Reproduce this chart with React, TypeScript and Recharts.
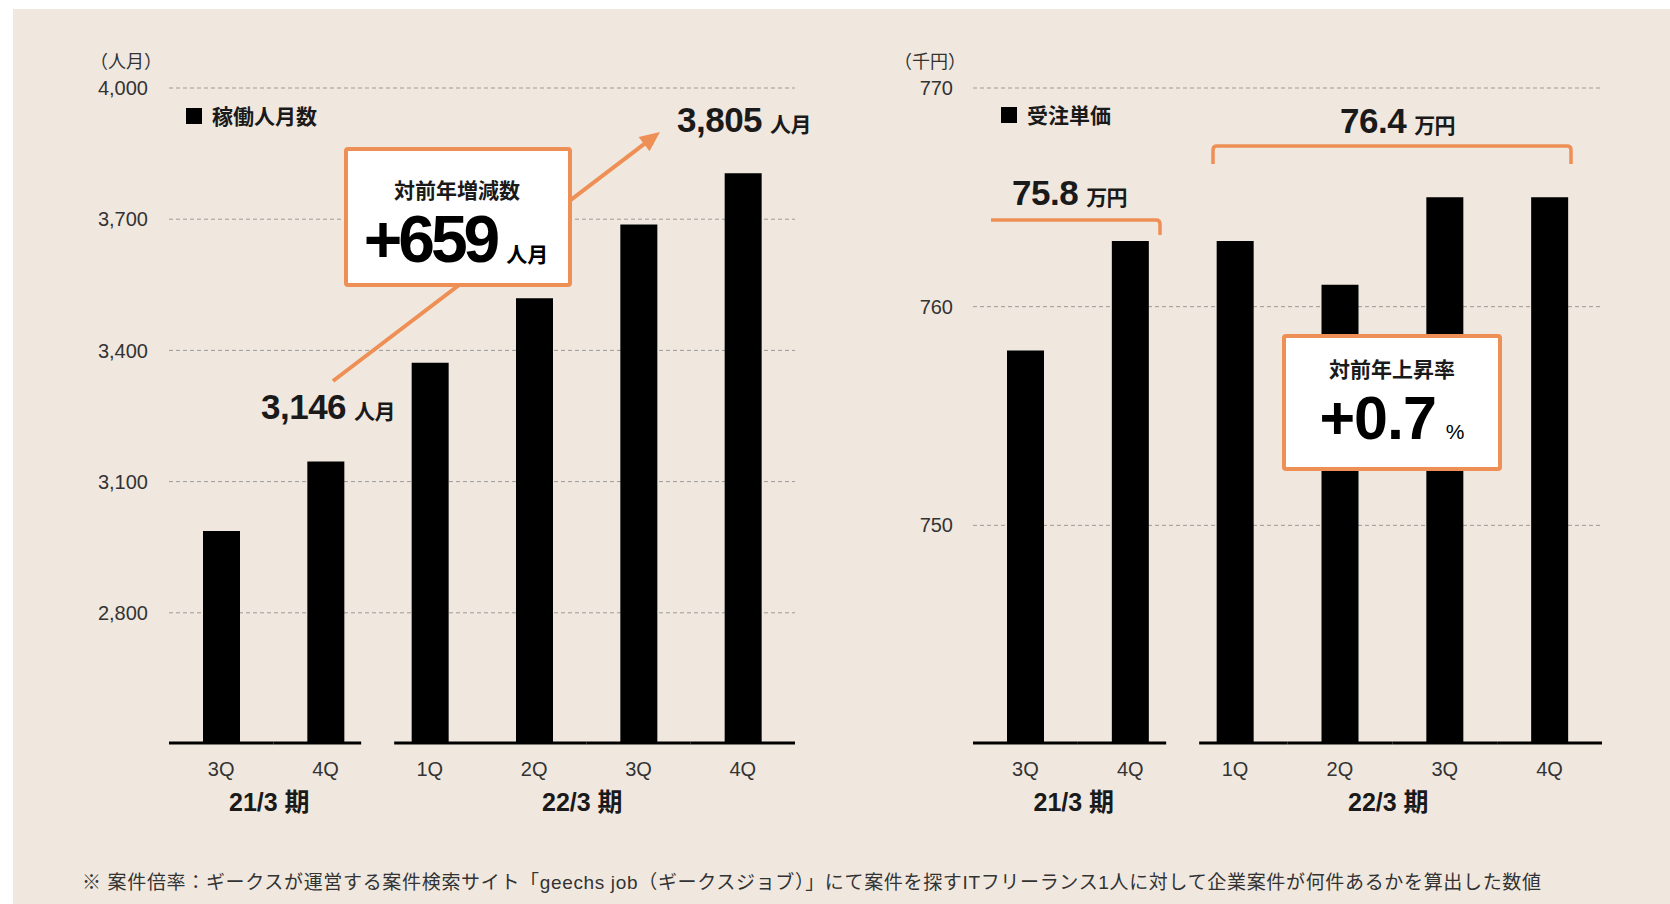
import React from 'react';
import { BarChart, Bar, XAxis, YAxis, CartesianGrid } from 'recharts';

// ---------- data ----------
const quarters = ['3Q', '4Q', '1Q', '2Q', '3Q', '4Q'];
const periodGroups = ['21/3 期', '21/3 期', '22/3 期', '22/3 期', '22/3 期', '22/3 期'];
const manMonths = [2987, 3146, 3372, 3519, 3688, 3805];
const unitPrice = [758, 763, 763, 761, 765, 765];
const manMonthTicks = [2800, 3100, 3400, 3700, 4000];
const unitPriceTicks = [750, 760, 770];
const manMonthDomain: [number, number] = [2500, 4000];
const unitPriceDomain: [number, number] = [740, 770];

const manMonthData = quarters.map((q, i) => ({ key: `${periodGroups[i]}-${q}`, q, g: periodGroups[i], v: manMonths[i] }));
const unitPriceData = quarters.map((q, i) => ({ key: `${periodGroups[i]}-${q}`, q, g: periodGroups[i], v: unitPrice[i] }));

// ---------- style ----------
const BEIGE = '#F0E8DF';
const ORANGE = '#EE8F56';
const FONT = "'Liberation Sans', 'Noto Sans CJK JP', sans-serif";
const TEXT = '#1a1a1a';
const TICK = '#333333';

const PLOT_TOP = 88;
const PLOT_BOTTOM = 744;
const X_AXIS_H = 110;
const GAP = 33;

function makeTick(band: number) {
  return (props: any) => {
    const { x, y, index } = props;
    const i = index;
    const cutLeft = i > 0 && periodGroups[i - 1] !== periodGroups[i] ? GAP / 2 : 0;
    const cutRight = i < periodGroups.length - 1 && periodGroups[i + 1] !== periodGroups[i] ? GAP / 2 : 0;
    const isGroupStart = i === 0 || periodGroups[i - 1] !== periodGroups[i];
    let groupLen = 0;
    if (isGroupStart) {
      for (let k = i; k < periodGroups.length && periodGroups[k] === periodGroups[i]; k++) groupLen++;
    }
    return (
      <g>
        <line x1={x - band / 2 + cutLeft} x2={x + band / 2 - cutRight} y1={y - 1} y2={y - 1} stroke="#000" strokeWidth={3} />
        <text x={x} y={y + 32} textAnchor="middle" fontSize={20} fill={TICK} fontFamily={FONT}>
          {quarters[i]}
        </text>
        {isGroupStart && (
          <text x={x + ((groupLen - 1) * band) / 2 - 4} y={y + 67} textAnchor="middle" fontSize={25} fontWeight={700} fill={TEXT} fontFamily={FONT}>
            {periodGroups[i]}
          </text>
        )}
      </g>
    );
  };
}

function Panel(props: { data: any[]; ticks: number[]; domain: [number, number]; left: number; yAxisW: number; width: number; tickMargin: number }) {
  const { data, ticks, domain, left, yAxisW, width, tickMargin } = props;
  const marginRight = 10;
  const band = (width - yAxisW - marginRight) / data.length;
  return (
    <div style={{ position: 'absolute', left, top: 0 }}>
      <BarChart width={width} height={PLOT_BOTTOM + X_AXIS_H} data={data} margin={{ top: PLOT_TOP, right: marginRight, bottom: 0, left: 0 }}>
        <CartesianGrid vertical={false} horizontalValues={ticks} stroke="#9a9a9a" strokeDasharray="4 3" strokeWidth={1} />
        <YAxis
          type="number"
          domain={domain}
          ticks={ticks}
          interval={0}
          width={yAxisW}
          axisLine={false}
          tickLine={false}
          tickSize={0}
          tickMargin={tickMargin}
          tick={{ fontSize: 20, fill: TICK, fontFamily: FONT }}
          tickFormatter={(v: number) => v.toLocaleString('en-US')}
          allowDataOverflow
        />
        <XAxis
          dataKey="key"
          type="category"
          interval={0}
          height={X_AXIS_H}
          axisLine={false}
          tickLine={false}
          tickSize={0}
          tickMargin={0}
          tick={makeTick(band)}
        />
        <Bar dataKey="v" fill="#000" barSize={37} isAnimationActive={false} />
      </BarChart>
    </div>
  );
}

function Arrow({ x1, y1, x2, y2 }: { x1: number; y1: number; x2: number; y2: number }) {
  const dx = x2 - x1;
  const dy = y2 - y1;
  const len = Math.sqrt(dx * dx + dy * dy);
  const ux = dx / len;
  const uy = dy / len;
  const headL = 20;
  const headW = 9;
  const bx = x2 - ux * headL;
  const by = y2 - uy * headL;
  const px = -uy * headW;
  const py = ux * headW;
  return (
    <g>
      <line x1={x1} y1={y1} x2={bx + ux * 2} y2={by + uy * 2} stroke={ORANGE} strokeWidth={4} />
      <polygon points={`${x2},${y2} ${bx + px},${by + py} ${bx - px},${by - py}`} fill={ORANGE} />
    </g>
  );
}

export default function App() {
  return (
    <div style={{ position: 'absolute', left: 0, top: 0, width: 1670, height: 904, background: '#fff', overflow: 'hidden' }}>
      <div style={{ position: 'absolute', left: 13, top: 9, right: 0, bottom: 0, background: BEIGE }} />
      <Panel data={manMonthData} ticks={manMonthTicks} domain={manMonthDomain} left={0} yAxisW={169} width={805} tickMargin={21} />
      <Panel data={unitPriceData} ticks={unitPriceTicks} domain={unitPriceDomain} left={820} yAxisW={153} width={792} tickMargin={20} />
      <svg width={1670} height={904} style={{ position: 'absolute', left: 0, top: 0, pointerEvents: 'none' }} fontFamily={FONT}>
        {/* unit labels */}
        <text x={162} y={68} textAnchor="end" fontSize={18} fill={TICK}>（人月）</text>
        <text x={966} y={68} textAnchor="end" fontSize={18} fill={TICK}>（千円）</text>

        {/* legends */}
        <rect x={186} y={108} width={16} height={16} fill="#000" />
        <text x={212} y={124} fontSize={21} fontWeight={700} fill={TEXT}>稼働人月数</text>
        <rect x={1001} y={107} width={16} height={16} fill="#000" />
        <text x={1027} y={123} fontSize={21} fontWeight={700} fill={TEXT}>受注単価</text>

        {/* left annotations */}
        <Arrow x1={333} y1={381} x2={660} y2={132} />
        <text x={677} y={132} fontSize={35} fontWeight={700} fill={TEXT} letterSpacing={-0.5}>
          3,805<tspan dx={8} fontSize={21}>人月</tspan>
        </text>
        <text x={261} y={419} fontSize={35} fontWeight={700} fill={TEXT} letterSpacing={-0.5}>
          3,146<tspan dx={8} fontSize={21}>人月</tspan>
        </text>
        <rect x={346} y={149} width={224} height={136} rx={2} fill="#fff" stroke={ORANGE} strokeWidth={4} />
        <text x={457} y={198} textAnchor="middle" fontSize={21} fontWeight={700} fill={TEXT}>対前年増減数</text>
        <text x={456} y={262} textAnchor="middle" fontWeight={700} fill="#000">
          <tspan fontSize={66} letterSpacing={-4}>+659</tspan>
          <tspan dx={10} fontSize={21} letterSpacing={0}>人月</tspan>
        </text>

        {/* right annotations */}
        <text x={1340} y={133} fontSize={35} fontWeight={700} fill={TEXT} letterSpacing={-0.5}>
          76.4<tspan dx={8} fontSize={21}>万円</tspan>
        </text>
        <path d="M1213,164 L1213,150 Q1213,146 1217,146 L1567,146 Q1571,146 1571,150 L1571,164" fill="none" stroke={ORANGE} strokeWidth={3.5} />
        <text x={1012} y={205} fontSize={35} fontWeight={700} fill={TEXT} letterSpacing={-0.5}>
          75.8<tspan dx={8} fontSize={21}>万円</tspan>
        </text>
        <path d="M991,220 L1156,220 Q1160,220 1160,224 L1160,235" fill="none" stroke={ORANGE} strokeWidth={3.5} />
        <rect x={1284} y={336} width={216} height={133} rx={2} fill="#fff" stroke={ORANGE} strokeWidth={4} />
        <text x={1392} y={377} textAnchor="middle" fontSize={21} fontWeight={700} fill={TEXT}>対前年上昇率</text>
        <text x={1392} y={439} textAnchor="middle" fontWeight={700} fill="#000">
          <tspan fontSize={61} letterSpacing={-1}>+0.7</tspan>
          <tspan dx={10} fontSize={21} fontWeight={400}>%</tspan>
        </text>

        {/* footnote */}
        <text x={82} y={889} fontSize={19} fill={TICK} textLength={1459} lengthAdjust="spacing">
          ※ 案件倍率：ギークスが運営する案件検索サイト「geechs job（ギークスジョブ）」にて案件を探すITフリーランス1人に対して企業案件が何件あるかを算出した数値
        </text>
      </svg>
    </div>
  );
}
